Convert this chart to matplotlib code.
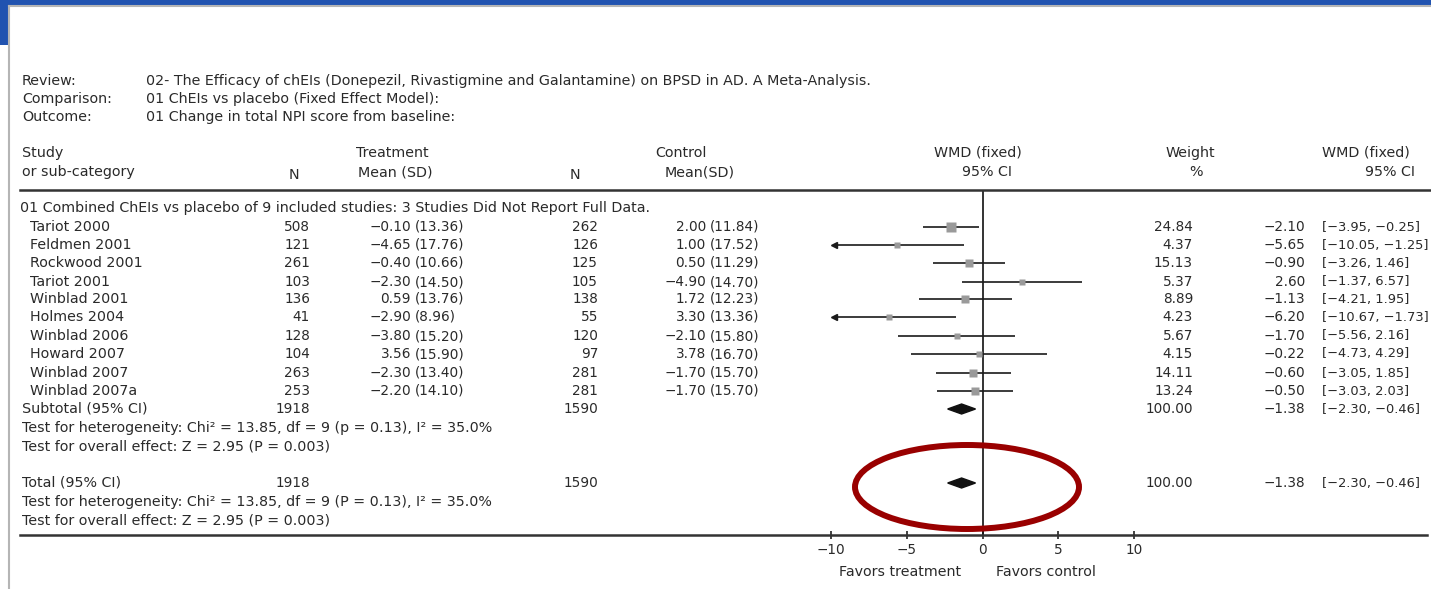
import matplotlib
matplotlib.use("Agg")
import matplotlib.pyplot as plt
from matplotlib.patches import Ellipse, Polygon, Rectangle
import numpy as np

studies = ["Tariot 2000", "Feldmen 2001", "Rockwood 2001", "Tariot 2001", "Winblad 2001",
           "Holmes 2004", "Winblad 2006", "Howard 2007", "Winblad 2007", "Winblad 2007a"]
n_trt = [508, 121, 261, 103, 136, 41, 128, 104, 263, 253]
mean_trt = [-0.10, -4.65, -0.40, -2.30, 0.59, -2.90, -3.80, 3.56, -2.30, -2.20]
sd_trt = [13.36, 17.76, 10.66, 14.50, 13.76, 8.96, 15.20, 15.90, 13.40, 14.10]
n_ctl = [262, 126, 125, 105, 138, 55, 120, 97, 281, 281]
mean_ctl = [2.00, 1.00, 0.50, -4.90, 1.72, 3.30, -2.10, 3.78, -1.70, -1.70]
sd_ctl = [11.84, 17.52, 11.29, 14.70, 12.23, 13.36, 15.80, 16.70, 15.70, 15.70]
weight = [24.84, 4.37, 15.13, 5.37, 8.89, 4.23, 5.67, 4.15, 14.11, 13.24]
wmd = [-2.10, -5.65, -0.90, 2.60, -1.13, -6.20, -1.70, -0.22, -0.60, -0.50]
ci_lo = [-3.95, -10.05, -3.26, -1.37, -4.21, -10.67, -5.56, -4.73, -3.05, -3.03]
ci_hi = [-0.25, -1.25, 1.46, 6.57, 1.95, -1.73, 2.16, 4.29, 1.85, 2.03]

total_trt = 1918
total_ctl = 1590
pooled = -1.38
pooled_ci = [-2.30, -0.46]
xticks = [-10, -5, 0, 5, 10]

W, H = 1431, 589
TXT = "#2a2a2a"
FS = 10.3      # words
FS_NUM = 9.8   # numeric columns
FS_CI = 9.4    # bracketed intervals

# pixel rows of the table
study_rows = [227, 245, 263, 282, 299, 317, 336, 354, 373, 391]
sub_row = 409
total_row = 483


def fmt(v, nd=2):
    s = f"{abs(v):.{nd}f}"
    return ("\u2212" + s) if v < 0 else s


fig = plt.figure(figsize=(W / 100, H / 100), dpi=100)

# forest panel: x in effect units, y in pixel rows
x0, x1 = 831, 1134
ytop, ybot = 190, 535
fax = fig.add_axes([x0 / W, 1 - ybot / H, (x1 - x0) / W, (ybot - ytop) / H])
fax.set_xlim(-10, 10)
fax.set_ylim(ybot, ytop)
fax.patch.set_alpha(0)
for sp in fax.spines.values():
    sp.set_visible(False)
fax.set_yticks([])
fax.set_xticks(xticks)
fax.set_xticklabels([fmt(t, 0) for t in xticks], fontsize=FS_NUM, color=TXT)
fax.tick_params(axis="x", direction="inout", length=6, width=1.2, pad=3, color="#222222")
fax.axvline(0, color="#111111", lw=1.2)

for y, est, lo, hi, w in zip(study_rows, wmd, ci_lo, ci_hi, weight):
    lo_c = max(lo, -9.8)
    hi_c = min(hi, 9.8)
    fax.plot([lo_c, hi_c], [y, y], color="#1a1a1a", lw=1.2, solid_capstyle="butt")
    if lo < -10:
        fax.plot(lo_c, y, marker="<", ms=5, color="#1a1a1a")
    side = (3 + 1.4 * np.sqrt(w)) * 0.72
    fax.plot(est, y, marker="s", ms=side, color="#9a9a9a", mec="none", zorder=3)

for y in (sub_row, total_row):
    dia = Polygon([(pooled_ci[0], y), (pooled, y - 5), (pooled_ci[1], y), (pooled, y + 5)],
                  closed=True, color="#111111", zorder=3)
    fax.add_patch(dia)

# table, frame and annotations in pixel space
ax = fig.add_axes([0, 0, 1, 1])
ax.set_xlim(0, W)
ax.set_ylim(H, 0)
ax.axis("off")
ax.patch.set_alpha(0)

ax.add_patch(Rectangle((0, 0), W, 4.5, color="#2153b0", lw=0))
ax.add_patch(Rectangle((0, 0), 7.5, 45, color="#2153b0", lw=0))
ax.plot([8.5, W], [5.5, 5.5], color="#b5b5b5", lw=1.5)
ax.plot([8.5, 8.5], [5.5, H], color="#b5b5b5", lw=1.5)

ax.plot([20, W], [190, 190], color="#333333", lw=1.8)
ax.plot([20, W - 4], [535, 535], color="#333333", lw=1.8)


def t(x, y, s, ha="left", fs=FS, **kw):
    ax.text(x, y, s, ha=ha, va="center", fontsize=fs, color=TXT, **kw)


t(22, 81, "Review:")
t(146, 81, "02- The Efficacy of chEIs (Donepezil, Rivastigmine and Galantamine) on BPSD in AD. A Meta-Analysis.")
t(22, 99, "Comparison:")
t(146, 99, "01 ChEIs vs placebo (Fixed Effect Model):")
t(22, 117, "Outcome:")
t(146, 117, "01 Change in total NPI score from baseline:")

# column headers
t(22, 153, "Study")
t(22, 172, "or sub-category")
t(294, 175, "N", ha="center")
t(392, 153, "Treatment", ha="center")
t(395, 172, "Mean (SD)", ha="center")
t(575, 175, "N", ha="center")
t(681, 153, "Control", ha="center")
t(700, 172, "Mean(SD)", ha="center")
t(978, 153, "WMD (fixed)", ha="center")
t(987, 172, "95% CI", ha="center")
t(1190, 153, "Weight", ha="center")
t(1196, 172, "%", ha="center")
t(1366, 153, "WMD (fixed)", ha="center")
t(1415, 172, "95% CI", ha="right")

t(20, 208, "01 Combined ChEIs vs placebo of 9 included studies: 3 Studies Did Not Report Full Data.")

for i, y in enumerate(study_rows):
    t(30, y, studies[i])
    t(310, y, str(n_trt[i]), ha="right", fs=FS_NUM)
    t(411, y, fmt(mean_trt[i]), ha="right", fs=FS_NUM)
    t(415, y, f"({sd_trt[i]:.2f})", fs=FS_NUM)
    t(598, y, str(n_ctl[i]), ha="right", fs=FS_NUM)
    t(706, y, fmt(mean_ctl[i]), ha="right", fs=FS_NUM)
    t(710, y, f"({sd_ctl[i]:.2f})", fs=FS_NUM)
    t(1193, y, f"{weight[i]:.2f}", ha="right", fs=FS_NUM)
    t(1305, y, fmt(wmd[i]), ha="right", fs=FS_NUM)
    t(1322, y, f"[{fmt(ci_lo[i])}, {fmt(ci_hi[i])}]", fs=FS_CI)

for y, label in ((sub_row, "Subtotal (95% CI)"), (total_row, "Total (95% CI)")):
    t(22, y, label)
    t(310, y, str(total_trt), ha="right", fs=FS_NUM)
    t(598, y, str(total_ctl), ha="right", fs=FS_NUM)
    t(1193, y, "100.00", ha="right", fs=FS_NUM)
    t(1305, y, fmt(pooled), ha="right", fs=FS_NUM)
    t(1322, y, f"[{fmt(pooled_ci[0])}, {fmt(pooled_ci[1])}]", fs=FS_CI)

t(22, 428, "Test for heterogeneity: Chi\u00b2 = 13.85, df = 9 (p = 0.13), I\u00b2 = 35.0%")
t(22, 447, "Test for overall effect: Z = 2.95 (P = 0.003)")
t(22, 502, "Test for heterogeneity: Chi\u00b2 = 13.85, df = 9 (P = 0.13), I\u00b2 = 35.0%")
t(22, 520, "Test for overall effect: Z = 2.95 (P = 0.003)")

t(900, 572, "Favors treatment", ha="center")
t(1046, 572, "Favors control", ha="center")

ax.add_patch(Ellipse((967, 487), 224, 84, fill=False, ec="#990000", lw=4.3, zorder=5))

fig.savefig("out.png", dpi=100)
